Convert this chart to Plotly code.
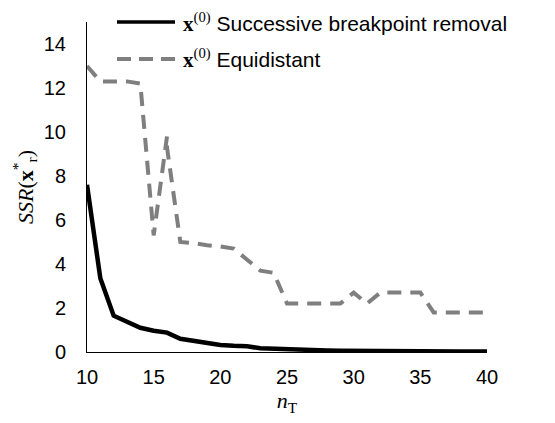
import plotly.graph_objects as go

# Number of breakpoints n_T
n_t = list(range(10, 41))

# SSR of the optimum for the successive-breakpoint-removal start
ssr_removal = [7.6, 3.35, 1.65, 1.4, 1.1, 0.97, 0.88, 0.6, 0.5, 0.45,
               0.32, 0.28, 0.26, 0.17, 0.14, 0.12, 0.09, 0.08, 0.07, 0.06,
               0.05, 0.05, 0.04, 0.04, 0.03, 0.03, 0.03, 0.02, 0.02, 0.02, 0.02]

# SSR of the optimum for the equidistant start (two results recorded at n_T = 16)
n_t_equi = [10, 11, 12, 13, 14, 15, 16, 16, 17, 18, 19, 20, 21, 22, 23, 24, 25,
            26, 27, 28, 29, 30, 31, 32, 33, 34, 35, 36, 37, 38, 39, 40]
ssr_equi = [13.0, 12.3, 12.3, 12.3, 12.2, 5.3, 9.8, 9.3, 5.0, 4.95, 4.85, 4.8,
            4.7, 4.2, 3.7, 3.6, 2.2, 2.2, 2.2, 2.2, 2.2, 2.7, 2.2, 2.7, 2.7,
            2.7, 2.7, 1.8, 1.8, 1.8, 1.8, 1.8]

x_ticks = [10, 15, 20, 25, 30, 35, 40]
y_ticks = [0, 2, 4, 6, 8, 10, 12, 14]

legend_labels = ["Successive breakpoint removal", "Equidistant"]

SANS = "Liberation Sans, Arial, sans-serif"
SERIF = "Liberation Serif, DejaVu Serif, serif"
GRAY = "#7f7f7f"

fig = go.Figure()
fig.add_trace(go.Scatter(x=n_t_equi, y=ssr_equi, mode="lines", name=legend_labels[1],
                         line=dict(color=GRAY, width=4, dash="14px,9px")))
fig.add_trace(go.Scatter(x=n_t, y=ssr_removal, mode="lines", name=legend_labels[0],
                         line=dict(color="black", width=4.5)))

# Hand-drawn legend with long line samples
legend_rows = [(1.0, dict(color="black", width=3.5), legend_labels[0]),
               (0.888, dict(color=GRAY, width=4, dash="14px,8px"), legend_labels[1])]
for yp, ln, label in legend_rows:
    fig.add_shape(type="line", xref="paper", yref="paper", x0=0.075, x1=0.22,
                  y0=yp, y1=yp, line=ln)
    fig.add_annotation(
        xref="paper", yref="paper", x=0.236, y=yp, xanchor="left", yanchor="middle",
        showarrow=False,
        text=(f'<span style="font-family:{SERIF}"><b>x</b><sup>(0)</sup></span> {label}'),
        font=dict(family=SANS, size=21, color="black"))

fig.update_layout(
    width=555, height=423,
    margin=dict(l=87, r=68, t=22, b=71),
    paper_bgcolor="white", plot_bgcolor="white",
    showlegend=False,
    font=dict(family=SANS, size=20, color="black"),
    xaxis=dict(range=[10, 40], tickvals=x_ticks, showgrid=False, zeroline=False,
               showline=True, linecolor="black", linewidth=1, ticks="",
               ticklabelstandoff=7,
               title=dict(text="<i>n</i><sub>T</sub>", font=dict(family=SERIF, size=22),
                          standoff=4)),
    yaxis=dict(range=[0, 15], tickvals=y_ticks, showgrid=False, zeroline=False,
               showline=True, linecolor="black", linewidth=1, ticks="",
               ticklabelstandoff=16,
               title=dict(text="<i>SSR</i>(<b>x</b><sup>*</sup><sub>r</sub>)",
                          font=dict(family=SERIF, size=22), standoff=4)),
)

fig.write_html("out.html")
